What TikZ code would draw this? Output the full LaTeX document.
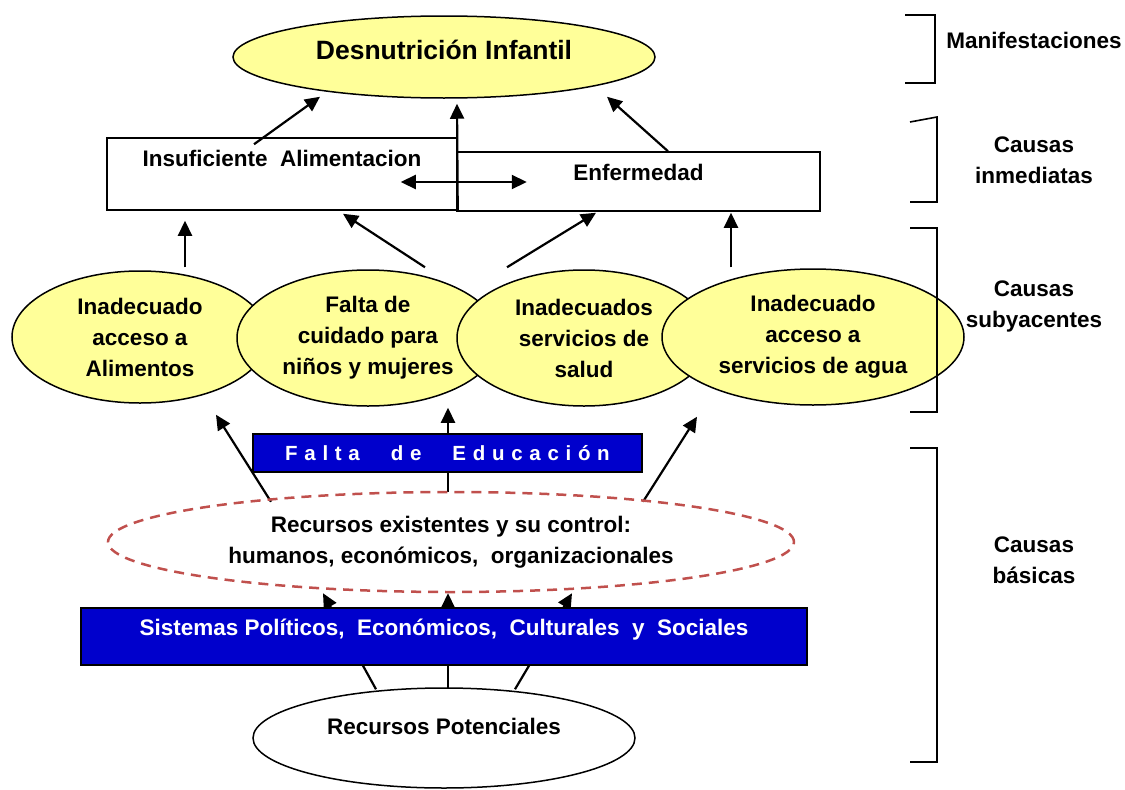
\documentclass[tikz,border=0pt]{standalone}
\usepackage{fontspec}
\setmainfont{Liberation Sans}
\usetikzlibrary{arrows.meta,shapes.geometric}
\definecolor{yel}{HTML}{FFFF99}
\definecolor{dblue}{HTML}{0000CC}
\definecolor{dred}{HTML}{C0504D}
\newcommand\lsp{\hspace{6.7pt}}
\newcommand\lwp{\hspace{31pt}}
\pgfdeclarelayer{bg}
\pgfsetlayers{bg,main}
\begin{document}
\begin{tikzpicture}[x=1pt,y=-1pt,
 tx/.style={font=\fontsize{22.5}{31}\selectfont\bfseries, align=center},
 arr/.style={line width=2.2pt, -{Triangle[length=15pt,width=14pt]}},
 darr/.style={line width=2.2pt, {Triangle[length=15pt,width=14pt]}-{Triangle[length=15pt,width=14pt]}},
 yell/.style={ellipse, draw, line width=1.5pt, fill=yel, inner sep=0pt, tx},
 box/.style={rectangle, draw, line width=1.5pt, fill=white, inner sep=0pt},
 bbox/.style={rectangle, draw=black, line width=1.5pt, fill=dblue, inner sep=0pt, text=white},
 brk/.style={line width=1.6pt}
]
\useasboundingbox (0,0) rectangle (1125,790);

% top
\node[yell, minimum width=422pt, minimum height=82pt,
  label={[tx, font=\fontsize{26.5}{31}\selectfont\bfseries, yshift=7pt]center:Desnutrición Infantil}] (top) at (444,57) {};

% immediate causes
\node[box, minimum width=350pt, minimum height=72pt,
  label={[tx, yshift=16pt]center:Insuficiente\ \ Alimentacion}] (ins) at (282,174) {};
\node[box, minimum width=363pt, minimum height=59pt,
  label={[tx, yshift=9.5pt]center:Enfermedad}] (enf) at (638.5,181.5) {};

% underlying causes
\node[yell, minimum width=256pt, minimum height=132pt] (e1) at (140,337) {Inadecuado\\acceso a\\Alimentos};
\node[yell, minimum width=262pt, minimum height=136pt] (e2) at (368,338) {Falta de\\cuidado para\\niños y mujeres};
\node[yell, minimum width=254pt, minimum height=136pt] (e3) at (584,338) {Inadecuados\\servicios de\\salud};
\node[yell, minimum width=302pt, minimum height=136pt] (e4) at (813,337) {Inadecuado\\acceso a\\servicios de agua};

% basic causes
\node[bbox, minimum width=389pt, minimum height=38pt, font=\fontsize{20.5}{24}\selectfont\bfseries] (edu) at (447.5,453)
  {F\lsp a\lsp l\lsp t\lsp a\lwp d\lsp e\lwp E\lsp d\lsp u\lsp c\lsp a\lsp c\lsp i\lsp ó\lsp n};
\node[ellipse, draw=dred, dash pattern=on 10pt off 7pt, line width=2.5pt, minimum width=686pt, minimum height=100pt, inner sep=0pt, tx] (rec) at (451,542)
  {Recursos existentes y su control:\\humanos, económicos,\ \ organizacionales};
\node[bbox, minimum width=726pt, minimum height=57pt,
  label={[tx, text=white, yshift=6.5pt]center:Sistemas Políticos,\ \ Económicos,\ \ Culturales\ \ y\ \ Sociales}] (sis) at (444,636.5) {};
\node[ellipse, draw, line width=1.5pt, fill=white, minimum width=382pt, minimum height=100pt, inner sep=0pt,
  label={[tx, yshift=12pt]center:Recursos Potenciales}] (rp) at (444,738) {};

% arrows behind boxes
\begin{pgfonlayer}{bg}
\draw[arr] ([xshift=-180pt,yshift=-11pt]rec.north) -- ([xshift=76pt,yshift=-11pt]e1.south);
\draw[arr] ([xshift=-3pt,yshift=-1pt]rec.north) -- ([xshift=80pt,yshift=-1pt]e2.south);
\draw[arr] ([xshift=192pt,yshift=-11pt]rec.north) -- ([xshift=-116pt,yshift=-11pt]e4.south);
\draw[arr] ([xshift=-68pt,yshift=-2pt]rp.north) -- ([xshift=-128pt]rec.south);
\draw[arr] ([xshift=4pt,yshift=-2pt]rp.north) -- ([xshift=-3pt]rec.south);
\draw[arr] ([xshift=71pt,yshift=-2pt]rp.north) -- ([xshift=121pt]rec.south);
\end{pgfonlayer}

% arrows to top
\draw[arr] ([xshift=-28pt,yshift=-7pt]ins.north) -- ([xshift=-124pt,yshift=2pt]top.south);
\draw[arr] (ins.south east) -- ([xshift=13pt,yshift=-5pt]top.south);
\draw[arr] ([xshift=29.5pt]enf.north) -- ([xshift=163pt,yshift=2pt]top.south);
\draw[darr] ([xshift=-57pt,yshift=-8pt]ins.east) -- ([xshift=69pt,yshift=-8pt]ins.east);

% arrows from ellipses to boxes
\draw[arr] ([xshift=45pt,yshift=3pt]e1.north) -- ([xshift=-97pt,yshift=-10pt]ins.south);
\draw[arr] ([xshift=57pt,yshift=2pt]e2.north) -- ([xshift=61pt,yshift=-3pt]ins.south);
\draw[arr] ([xshift=-77pt,yshift=2pt]e3.north) -- ([xshift=-42.5pt,yshift=-1pt]enf.south);
\draw[arr] ([xshift=-82pt,yshift=1pt]e4.north) -- ([xshift=92.5pt,yshift=-1pt]enf.south);

% brackets
\draw[brk] (905,15) -- (935,15) -- (935,83) -- (905,83);
\draw[brk] (910,122) -- (937,117) -- (937,202) -- (910,202);
\draw[brk] (910,228) -- (937,228) -- (937,412) -- (910,412);
\draw[brk] (910,448) -- (937,448) -- (937,762) -- (910,762);

% side labels
\node[tx] (l1) at (1034,40) {Manifestaciones};
\node[tx] (l2) at (1034,160) {Causas\\inmediatas};
\node[tx] (l3) at (1034,306) {Causas\\subyacentes};
\node[tx] (l4) at (1034,560) {Causas\\básicas};
\end{tikzpicture}
\end{document}
